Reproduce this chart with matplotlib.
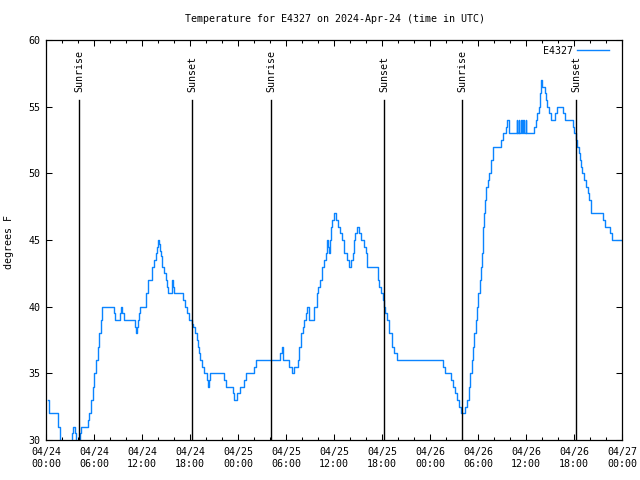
import numpy as np
import pandas as pd
import matplotlib
matplotlib.use('Agg')
import matplotlib.pyplot as plt
import matplotlib.dates as mdates

plt.rcParams['font.family'] = ['DejaVu Sans Mono']
plt.rcParams['font.size'] = 7.2

# hours after 2024-04-24 00:00 UTC, temperature holds from each time to the next
hours = [0.25, 0.42, 1.54, 1.75, 1.88, 3.29, 3.42, 3.67, 3.75, 4.13, 4.25, 4.42,
         5.29, 5.42, 5.625, 5.83, 6.04, 6.25, 6.5, 6.67, 6.83, 7.0,
         8.54, 8.67, 9.29, 9.42, 9.54, 9.71, 11.08, 11.29, 11.42, 11.54, 11.625, 11.79,
         12.54, 12.71, 13.29, 13.5, 13.75, 13.83, 13.96, 14.125, 14.25, 14.375, 14.54,
         14.75, 14.96, 15.08, 15.25, 15.71, 15.79, 15.92, 16.04, 17.08, 17.33, 17.625,
         17.92, 18.21, 18.375, 18.67, 18.83, 18.96, 19.125, 19.25, 19.54, 19.75,
         20.125, 20.29, 20.375, 20.5, 22.29, 22.5, 23.33, 23.5,
         23.83, 24.25, 24.75, 24.96, 26.04, 26.25, 29.29, 29.46, 29.58, 29.67,
         30.33, 30.75, 31.0, 31.21, 31.46, 31.67, 31.92, 32.08, 32.25, 32.5, 32.67,
         32.92, 33.54, 33.83, 34.04, 34.21, 34.5, 34.75, 34.96, 35.08, 35.21, 35.33,
         35.46, 35.625, 35.79, 36.04, 36.25, 36.5, 36.75, 36.96, 37.21, 37.67, 37.92,
         38.08, 38.33, 38.5, 38.67, 38.92, 39.125, 39.42, 39.79, 39.96, 40.17,
         41.46, 41.67, 41.92, 42.08, 42.25, 42.42, 42.58, 42.92, 43.25, 43.5, 43.83,
         49.58, 49.92, 50.67, 50.92, 51.17, 51.42, 51.67, 51.875, 52.375, 52.67,
         52.875, 53.04, 53.21, 53.375, 53.54, 53.71, 53.875, 54.04, 54.21, 54.33,
         54.46, 54.58, 54.67, 54.75, 54.83, 54.96, 55.21, 55.42, 55.58, 55.83,
         56.92, 57.17, 57.46, 57.67, 57.83,
         58.83, 58.91, 59.08, 59.16, 59.375, 59.455, 59.67, 59.75, 59.96, 60.04,
         60.96, 61.21, 61.42, 61.625, 61.75,
         61.875, 62.04, 62.33, 62.5, 62.67, 62.92, 63.08, 63.625, 63.83, 64.67,
         64.92, 65.83, 66.0, 66.25, 66.42, 66.58, 66.75, 66.92, 67.04, 67.29,
         67.46, 67.71, 67.92, 68.17, 69.67, 69.92, 70.54, 70.71, 72.0]
temps = [33, 32, 31, 30, 29, 30.5, 31, 30.5, 29, 30, 30.5, 31,
         31.5, 32, 33, 34, 35, 36, 37, 38, 39, 40,
         39.5, 39, 39.5, 40, 39.5, 39, 38.5, 38, 38.5, 39, 39.5, 40,
         41, 42, 43, 43.5, 44, 44.5, 45, 44.7, 44.2, 43.8, 43,
         42.5, 42, 41.5, 41, 41.5, 42, 41.5, 41, 40.5, 40, 39.5,
         39, 38.7, 38.5, 38, 37.5, 37, 36.5, 36, 35.5, 35,
         34.5, 34, 34.5, 35, 34.5, 34, 33.5, 33,
         33.5, 34, 34.5, 35, 35.5, 36, 36.5, 37, 36.5, 36,
         35.5, 35, 35.5, 35.5, 36, 37, 38, 38.5, 39, 39.5, 40,
         39, 40, 41, 41.5, 42, 43, 43.5, 44, 45, 44.5, 44,
         45, 46, 46.5, 47, 46.5, 46, 45.5, 45, 44, 43.5, 43,
         43.5, 44, 45, 45.5, 46, 45.5, 45, 44.5, 44, 43,
         42, 41.5, 41, 40.5, 40, 39.5, 39, 38, 37, 36.5, 36,
         35.5, 35, 34.5, 34, 33.5, 33, 32.5, 32, 32.5, 33,
         34, 35, 36, 37, 38, 39, 40, 41, 42, 43,
         44, 45, 46, 47, 48, 49, 49.5, 50, 51, 52,
         52.5, 53, 53.5, 54, 53,
         54, 53, 54, 53, 54, 53, 54, 53, 54, 53,
         53.5, 54, 54.5, 55, 56,
         57, 56.5, 56, 55.5, 55, 54.5, 54, 54.5, 55, 54.5,
         54, 53.5, 53, 52.5, 52, 51.5, 51, 50.5, 50, 49.5,
         49, 48.5, 48, 47, 46.5, 46, 45.5, 45, 45]

sun_times = ['2024-04-24 04:10', '2024-04-24 18:17', '2024-04-25 04:09',
             '2024-04-25 18:18', '2024-04-26 04:03', '2024-04-26 18:18']
sun_names = ['Sunrise', 'Sunset', 'Sunrise', 'Sunset', 'Sunrise', 'Sunset']

start = pd.Timestamp('2024-04-24 00:00')
t = start + pd.to_timedelta(hours, unit='h')

fig = plt.figure(figsize=(6.4, 4.8), dpi=100)
ax = fig.add_axes([46/640, 40/480, 576/640, 400/480])

ax.plot(t, temps, drawstyle='steps-post', color='#0a84ff', lw=1.0, label='E4327')

for st, name in zip(sun_times, sun_names):
    ts = pd.Timestamp(st)
    ax.plot([ts, ts], [30, 55.5], color='black', lw=1.0)
    ax.text(ts, 56.1, name, rotation=90, ha='center', va='bottom')

ax.set_xlim(start, pd.Timestamp('2024-04-27 00:00'))
ax.set_ylim(30, 60)
ax.set_yticks(np.arange(30, 61, 5))
ax.xaxis.set_major_locator(mdates.HourLocator(byhour=range(0, 24, 6)))
ax.xaxis.set_minor_locator(mdates.HourLocator(interval=2))
ax.xaxis.set_major_formatter(mdates.DateFormatter('%m/%d\n%H:%M'))

ax.tick_params(which='both', direction='in', top=True, right=True, width=0.75)
ax.tick_params(which='major', length=4.5)
ax.tick_params(which='minor', length=2.5)
ax.tick_params(axis='x', pad=5)
ax.tick_params(axis='y', pad=4)
for s in ax.spines.values():
    s.set_linewidth(0.9)

fig.text(335/640, 1 - 19/480, 'Temperature for E4327 on 2024-Apr-24 (time in UTC)',
         ha='center', va='center')
fig.text(9.5/640, 0.496, 'degrees F', rotation=90, ha='center', va='center')

ax.legend(loc='upper right', bbox_to_anchor=(0.984, 0.996), frameon=False,
          markerfirst=False, handlelength=3.2, handletextpad=0.4, borderaxespad=0)

fig.savefig('out.png', dpi=100)
